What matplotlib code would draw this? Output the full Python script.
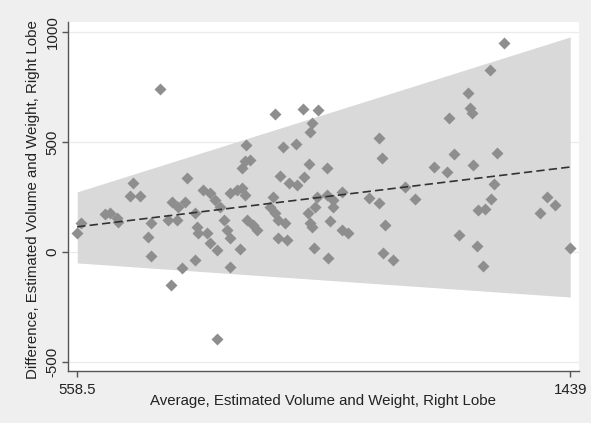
import numpy as np
import matplotlib
matplotlib.use("Agg")
import matplotlib.pyplot as plt

plt.rcParams['font.family'] = ['Liberation Sans', 'DejaVu Sans']

# averages (x) and differences (y)
avg = [707, 754, 658.5, 653, 670, 566, 558.5, 608, 617, 629, 632, 691, 685, 691,
       727, 739, 751, 721, 736, 745, 726, 769, 912, 961, 989, 977, 975, 860, 858,
       867, 852, 926, 950, 973, 920, 936, 951, 963, 784, 796, 805, 814, 832, 844,
       853, 858, 909, 769, 772, 775, 790, 796, 808, 820, 826, 832, 832, 850, 861,
       873, 879, 903, 912, 918, 930, 918, 933, 971, 975, 977, 981, 808, 1097, 1103,
       1195, 1004, 986, 983, 1004, 1016, 1016, 1031, 1010, 1031, 1043, 1079, 1097,
       1108, 1144, 1162, 1007, 1105, 1123, 1320, 1296, 1257, 1260, 1263, 1222, 1232,
       1219, 1265, 1309, 1302, 1298, 1275, 1287, 1397, 1412, 1385, 1241, 1272, 1284,
       1439]
diff = [740, 335, 312, 255, 255, 133, 85, 173, 179, 153, 135, 130, 70, -18,
        229, 206, 229, 145, 145, -74, -150, -36, 627, 648, 645, 585, 547, 485, 411,
        418, 380, 476, 491, 400, 345, 312, 305, 342, 282, 267, 236, 206, 267, 282,
        289, 259, 251, 176, 115, 85, 85, 40, 9, 145, 100, 62, -67, 12, 145,
        123, 100, 206, 176, 145, 130, 62, 55, 176, 130, 115, 17, -397, 517, 429,
        385, 380, 251, 206, 259, 236, 206, 274, 142, 100, 85, 244, 221,
        123, 297, 240, -29, -6, -36, 949, 827, 721, 653, 633, 608, 445,
        361, 395, 451, 309, 239, 191, 194, 251, 214, 176, 77, 27, -64,
        17]

# regression-based mean difference and limits of agreement
fit_x = [558.5, 1439]
fit_mean = [114, 386]
fit_upper = [273, 977]
fit_lower = [-50, -205]

fig = plt.figure(figsize=(5.91, 4.23), dpi=100, facecolor='#efefef')
ax = fig.add_axes([0.115, 0.123, 0.865, 0.825])
ax.set_facecolor('white')

ax.fill_between(fit_x, fit_lower, fit_upper, color='#d9d9d9', lw=0, zorder=1)
ax.plot(avg, diff, 'D', color='#8e8e8e', markersize=6.2, mec='none', zorder=3)
ax.plot(fit_x, fit_mean, color='#333333', lw=1.2, dashes=(5, 2.5), zorder=4)

ax.set_xlim(542, 1455)
ax.set_ylim(-541, 1045)
ax.set_xticks([558.5, 1439])
ax.set_xticklabels(['558.5', '1439'])
ax.set_yticks([-500, 0, 500, 1000])
ax.set_yticklabels(['-500', '0', '500', '1000'], rotation=90, va='center')
ax.grid(axis='y', color='#ebebeb', lw=0.9, zorder=0)
ax.set_axisbelow(True)

for s in ['top', 'right']:
    ax.spines[s].set_visible(False)
for s in ['left', 'bottom']:
    ax.spines[s].set_color('#555555')
    ax.spines[s].set_linewidth(1.0)
ax.tick_params(length=4, width=1, color='#555555', labelsize=10.8, labelcolor='#222222')
ax.tick_params(axis='x', pad=5)
ax.tick_params(axis='y', pad=2)

ax.set_xlabel('Average, Estimated Volume and Weight, Right Lobe', fontsize=10.8, color='#222222')
ax.set_ylabel('Difference, Estimated Volume and Weight, Right Lobe', fontsize=10.8, color='#222222')
ax.xaxis.set_label_coords(0.499, -0.086, transform=ax.transAxes)
ax.yaxis.set_label_coords(-0.068, 0.49, transform=ax.transAxes)
ax.xaxis.label.set_va('center')
ax.yaxis.label.set_va('center')

fig.savefig('out.png', dpi=100, facecolor=fig.get_facecolor())
